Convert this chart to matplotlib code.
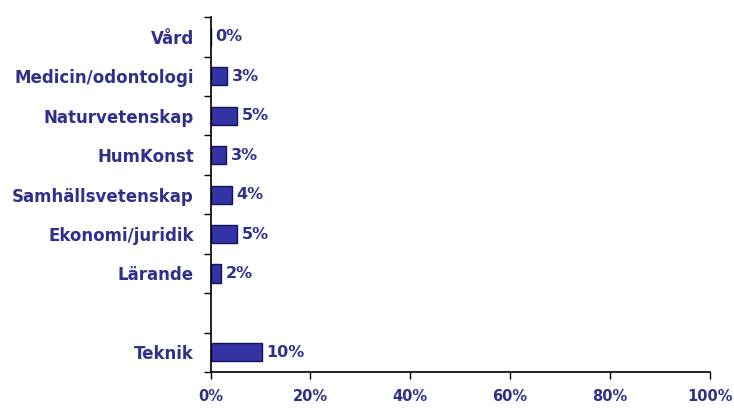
import numpy as np
import matplotlib.pyplot as plt
from matplotlib.ticker import FixedLocator, FuncFormatter

# data (top to bottom); the blank slot has no bar
categories = ["Vård", "Medicin/odontologi", "Naturvetenskap", "HumKonst",
              "Samhällsvetenskap", "Ekonomi/juridik", "Lärande", "", "Teknik"]
values = [0.0, 3.2, 5.2, 3.1, 4.2, 5.2, 2.1, np.nan, 10.2]
value_labels = ["0%", "3%", "5%", "3%", "4%", "5%", "2%", "", "10%"]
x_ticks = [0, 20, 40, 60, 80, 100]

text_color = "#30308a"
bar_color = "#3333a6"
edge_color = "#14145a"

plt.rcParams['font.family'] = ['DejaVu Sans']

fig = plt.figure(figsize=(7.34, 4.08), dpi=100)
ax = fig.add_axes([0.287, 0.088, 0.68, 0.870])

y = np.arange(len(categories))
has_bar = [not np.isnan(v) for v in values]
ax.barh(y[has_bar], np.array(values)[has_bar], height=0.46, color=bar_color,
        edgecolor=edge_color, linewidth=1.0)

for yi, v, lab in zip(y, values, value_labels):
    if lab:
        ax.text(v + 1.0, yi, lab, va='center', ha='left', fontsize=11.5,
                fontweight='bold', color=text_color)

ax.set_xlim(0, 100)
ax.set_ylim(len(categories) - 0.5, -0.5)

# category boundaries get the tick marks, category centres get the labels
ax.yaxis.set_major_locator(FixedLocator(np.arange(-0.5, len(categories), 1.0)))
ax.yaxis.set_major_formatter(FuncFormatter(lambda v, p: ""))
ax.yaxis.set_minor_locator(FixedLocator(y))
ax.set_yticklabels(categories, minor=True)
ax.tick_params(axis='y', which='major', length=5, width=1, direction='out')
ax.tick_params(axis='y', which='minor', length=0, pad=12, labelsize=12,
               labelcolor=text_color)
for t in ax.get_yticklabels(minor=True):
    t.set_fontweight('bold')

ax.set_xticks(x_ticks)
ax.set_xticklabels([f"{t}%" for t in x_ticks])
ax.tick_params(axis='x', length=5, width=1, direction='out', pad=7,
               labelsize=10.5, labelcolor=text_color)
for t in ax.get_xticklabels():
    t.set_fontweight('bold')

for s in ['top', 'right']:
    ax.spines[s].set_visible(False)
ax.spines['left'].set_linewidth(1.2)
ax.spines['bottom'].set_linewidth(1.2)

plt.savefig("out.png", dpi=100)
plt.close()
